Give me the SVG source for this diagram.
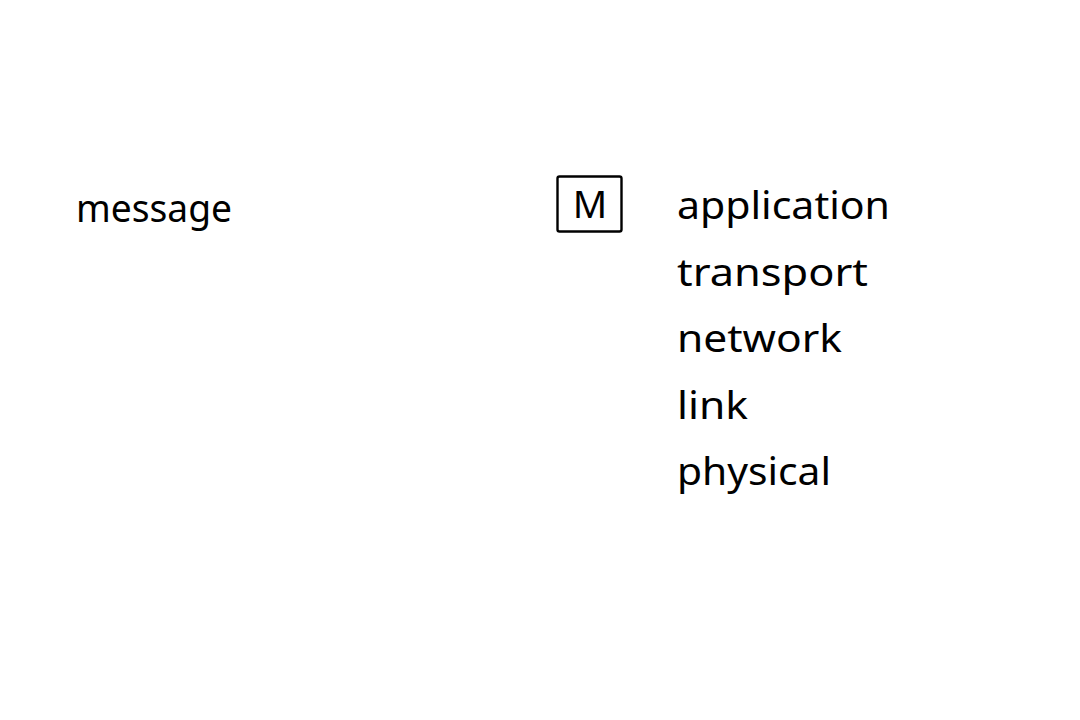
<svg xmlns="http://www.w3.org/2000/svg" width="1080" height="720" viewBox="0 0 1080 720">
<style>
.t{font-family:"Noto Sans","DejaVu Sans",sans-serif;font-size:38px;fill:#000;}
.box{fill:none;stroke:#000;stroke-width:2.4;}
</style>
<rect width="1080" height="720" fill="#fff"/>
<g id="message"><text class="t" x="76" y="222" textLength="156" lengthAdjust="spacingAndGlyphs">message</text></g>
<g id="m-box"><rect class="box" x="557.5" y="176.5" width="64" height="55" rx="2"/><text class="t" x="590" y="218" text-anchor="middle" font-size="34">M</text></g>
<g id="layers">
<text class="t" x="677" y="219" textLength="213" lengthAdjust="spacingAndGlyphs">application</text>
<text class="t" x="677" y="286" textLength="191" lengthAdjust="spacingAndGlyphs">transport</text>
<text class="t" x="677" y="352" textLength="165" lengthAdjust="spacingAndGlyphs">network</text>
<text class="t" x="677" y="419" textLength="71" lengthAdjust="spacingAndGlyphs">link</text>
<text class="t" x="677" y="485" textLength="154" lengthAdjust="spacingAndGlyphs">physical</text>
</g>
<g id="connectors"></g>
</svg>
